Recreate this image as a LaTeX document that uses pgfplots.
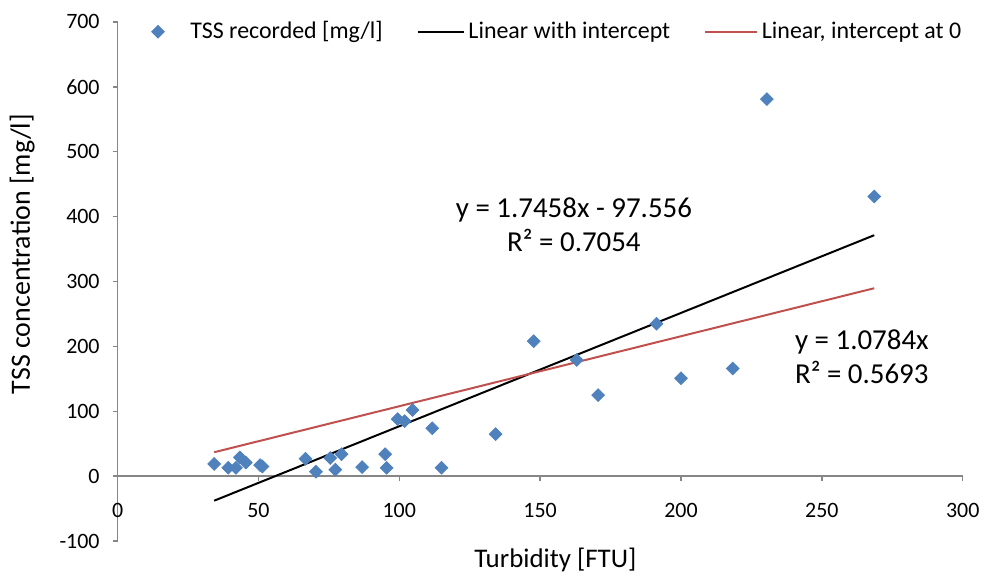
\documentclass[border=0pt]{standalone}
\usepackage{fontspec}
\setmainfont{Carlito}
\usepackage{pgfplots}
\pgfplotsset{compat=1.18}
\definecolor{tss}{HTML}{4F81BD}
\definecolor{fitzero}{HTML}{C0504D}
\definecolor{axisgray}{HTML}{868686}
\pgfplotsset{
  linelegend/.style={legend image code/.code={\draw[##1] (0pt,0pt) -- (#1,0pt);}},
  marklegend/.style={legend image code/.code={\draw[##1] plot coordinates {(8pt,0pt)}; \path (0pt,0pt) (22pt,0pt);}},
}

\begin{document}
\begin{tikzpicture}
\path (-59pt,-15pt) rectangle (434pt,271.5pt);
\begin{axis}[
  scale only axis, width=424pt, height=260.5pt,
  xmin=0, xmax=300, ymin=-100, ymax=700,
  xtick={0,50,...,300}, ytick={-100,0,...,700},
  axis x line=middle, axis y line=left,
  axis line style={draw=axisgray, line width=0.75pt, -},
  tick style={draw=axisgray, line width=0.75pt},
  tick align=outside, major tick length=2.5pt,
  hide obscured x ticks=false, hide obscured y ticks=false,
  /pgf/number format/assume math mode=true,
  tick label style={font=\fontsize{11}{13}\selectfont, black},
  xticklabel style={yshift=-7.5pt},
  yticklabel style={xshift=-3pt},
  xlabel={Turbidity [FTU]},
  xlabel style={at={(axis description cs:0.518,0)}, anchor=north, font=\fontsize{13.5}{16}\selectfont},
  ylabel={TSS concentration [mg/l]},
  ylabel style={at={(axis description cs:-0.113,0.553)}, anchor=center, font=\fontsize{14}{16}\selectfont},
  legend style={draw=none, fill=none, font=\fontsize{12}{14}\selectfont,
    at={(axis description cs:0.021,0.981)}, anchor=west, legend columns=3,
    /tikz/every even column/.append style={column sep=15pt}},
  legend cell align=left,
]
\addplot[only marks, mark=square*, mark size=2.25pt, mark options={rotate=45, fill=tss, draw=tss}, marklegend] coordinates {
(34.3,19) (39.3,13) (42,13) (43.4,29) (45.5,21) (50.6,17) (51.4,15)
(66.7,27) (70.4,7) (75.5,28) (77.3,10) (79.5,34) (86.8,14) (95,34)
(95.5,13) (99.4,88) (101.9,85) (104.7,102) (111.7,74) (115,13)
(134.2,65) (147.7,208) (163,179) (170.6,125) (191.3,235) (200,151)
(218.4,166) (230.5,581) (268.6,431)};
\addlegendentry{TSS recorded [mg/l]}
\addplot[black, line width=1pt, linelegend=23pt] coordinates {(34.3,-37.67) (268.6,371.37)};
\addlegendentry{Linear with intercept}
\addplot[fitzero, line width=1pt, linelegend=26pt] coordinates {(34.3,36.99) (268.6,289.66)};
\addlegendentry{Linear, intercept at 0}
\node[font=\fontsize{14.5}{17}\selectfont, align=center] at (axis cs:162,388) {y = 1.7458x - 97.556\\R² = 0.7054};
\node[font=\fontsize{14.5}{17}\selectfont, align=left, anchor=west] at (axis cs:238,184) {y = 1.0784x\\R² = 0.5693};
\end{axis}
\end{tikzpicture}
\end{document}
